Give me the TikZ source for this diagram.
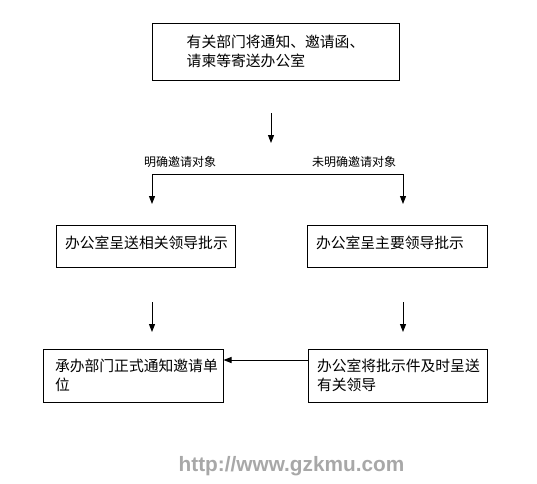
\documentclass[tikz,border=0pt]{standalone}
\usepackage{fontspec}
\setmainfont{Liberation Sans}
\newfontfamily\cjk{Noto Sans CJK SC}
\usetikzlibrary{arrows.meta}
\definecolor{wmgray}{RGB}{168,168,168}

\begin{document}
\begin{tikzpicture}[x=1pt,y=-1pt,
    box/.style={draw,line width=1pt,rectangle,inner sep=0pt,
      font=\cjk\fontsize{14.8}{19}\selectfont},
    lbl/.style={font=\cjk\fontsize{12}{14}\selectfont,inner sep=0pt},
    arr/.style={line width=1pt,-{Triangle[length=8pt,width=6pt]}}]
  \useasboundingbox (0,0) rectangle (537,483);

  % boxes
  \node[box,minimum width=247pt,minimum height=57pt,align=left]
    (notice) at (275.5,51.5) {有关部门将通知、邀请函、\\请柬等寄送办公室};
  \node[box,minimum width=179pt,minimum height=42pt,text width=161pt,
    inner xsep=9pt,align=left,text depth=8pt]
    (relevant) at (145.5,246) {办公室呈送相关领导批示};
  \node[box,minimum width=180pt,minimum height=42pt,text width=162pt,
    inner xsep=9pt,align=left,text depth=8pt]
    (major) at (397,246) {办公室呈主要领导批示};
  \node[box,minimum width=180pt,minimum height=53pt,text width=156pt,
    inner xsep=12pt,align=left]
    (invite) at (133,375.5) {承办部门正式通知邀请单\\位};
  \node[box,minimum width=179pt,minimum height=53pt,text width=161pt,
    inner xsep=9pt,align=left]
    (forward) at (397.5,375.5) {办公室将批示件及时呈送\\有关领导};

  % free ends of the arrows
  \coordinate (t1) at (271,113);
  \coordinate (t2) at (271,143);
  \coordinate (bl) at (152,174);
  \coordinate (br) at (403,174);
  \coordinate (bl2) at (152,204);
  \coordinate (br2) at (403,204);
  \coordinate (ml1) at (152,302);
  \coordinate (ml2) at (152,332);
  \coordinate (mr1) at (403,302);
  \coordinate (mr2) at (403,332);

  \draw[arr] (t1) -- (t2);
  \draw[line width=1pt] (bl) -- (br);
  \draw[arr] (bl) -- (bl2);
  \draw[arr] (br) -- (br2);
  \node[lbl] (yes) at (180,162) {明确邀请对象};
  \node[lbl] (no) at (354,162) {未明确邀请对象};

  \draw[arr] (ml1) -- (ml2);
  \draw[arr] (mr1) -- (mr2);
  \draw[arr] ([yshift=15.5pt]forward.west) -- ([yshift=15.5pt]invite.east);

  \node[text=wmgray,font=\bfseries\fontsize{20.8}{24}\selectfont,inner sep=0pt]
    (wm) at (291.5,466) {http://www.gzkmu.com};
\end{tikzpicture}
\end{document}
